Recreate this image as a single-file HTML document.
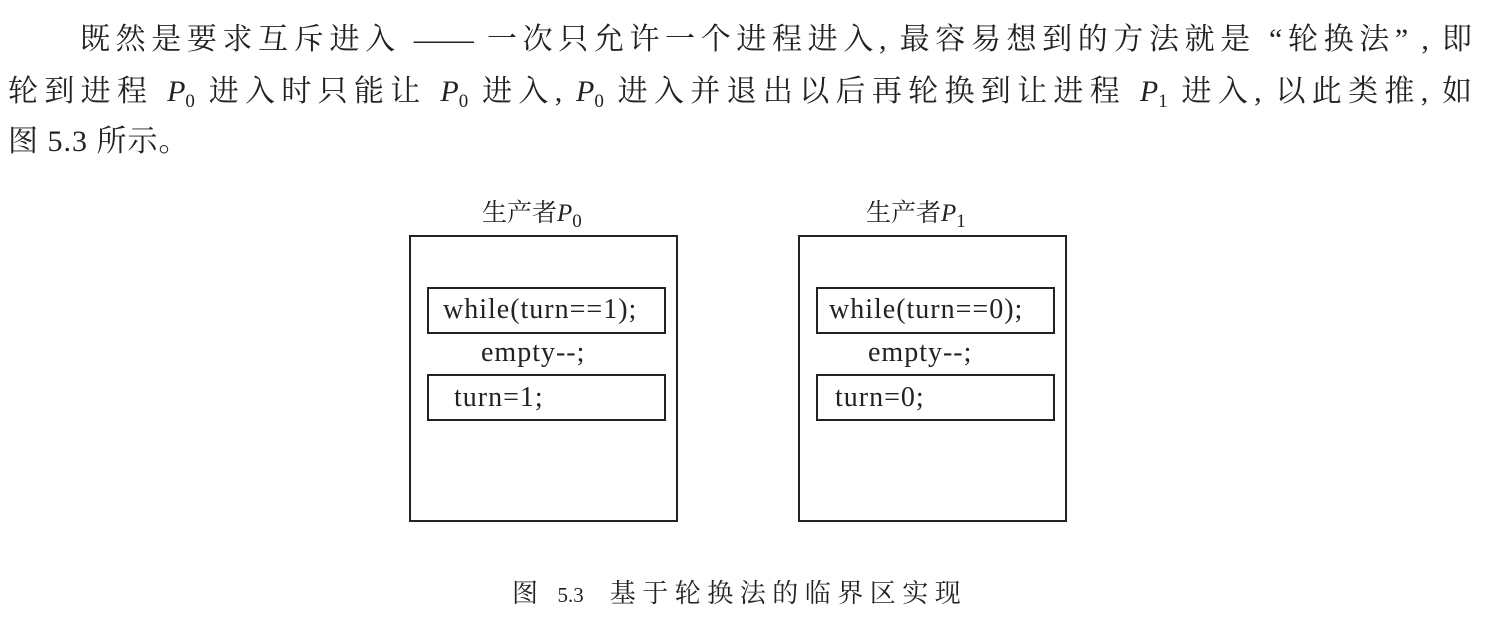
<!DOCTYPE html>
<html><head><meta charset="utf-8"><style>
body{margin:0;width:1495px;height:633px;background:#fff;position:relative;overflow:hidden;font-family:"Liberation Serif","Noto Serif CJK SC",serif;color:#222}
.l{position:absolute;font-size:30px;white-space:nowrap;text-align:justify;text-align-last:justify;height:40px;line-height:40px}
i{font-style:italic}
sub{font-size:19px;vertical-align:-6px;line-height:0}
.box{position:absolute;border:2px solid #222;box-sizing:border-box}
.t{position:absolute;font-size:28px;letter-spacing:1px;white-space:nowrap;line-height:32px}
</style></head><body>
<div class="l" style="left:80px;top:20px;width:1392px">既然是要求互斥进入 —— 一次只允许一个进程进入, 最容易想到的方法就是 “轮换法” , 即</div>
<div class="l" style="left:8px;top:72px;width:1464px">轮到进程 <i>P</i><sub>0</sub> 进入时只能让 <i>P</i><sub>0</sub> 进入, <i>P</i><sub>0</sub> 进入并退出以后再轮换到让进程 <i>P</i><sub>1</sub> 进入, 以此类推, 如</div>
<div class="l" style="left:8px;top:122px;text-align:left;text-align-last:left;letter-spacing:1px">图 5.3 所示。</div>

<div class="t" style="left:482px;top:198px;font-size:25px;letter-spacing:0">生产者<i>P</i><sub>0</sub></div>
<div class="t" style="left:866px;top:198px;font-size:25px;letter-spacing:0">生产者<i>P</i><sub>1</sub></div>

<div class="box" style="left:409px;top:235px;width:269px;height:287px"></div>
<div class="box" style="left:427px;top:287px;width:239px;height:47px"></div>
<div class="t" style="left:443px;top:294px">while(turn==1);</div>
<div class="t" style="left:481px;top:337px">empty--;</div>
<div class="box" style="left:427px;top:374px;width:239px;height:47px"></div>
<div class="t" style="left:454px;top:382px">turn=1;</div>

<div class="box" style="left:798px;top:235px;width:269px;height:287px"></div>
<div class="box" style="left:816px;top:287px;width:239px;height:47px"></div>
<div class="t" style="left:829px;top:294px">while(turn==0);</div>
<div class="t" style="left:868px;top:337px">empty--;</div>
<div class="box" style="left:816px;top:374px;width:239px;height:47px"></div>
<div class="t" style="left:835px;top:382px">turn=0;</div>

<div class="t" style="left:512px;top:578px;font-size:26px;letter-spacing:6.5px">图 <span style="font-size:21px;letter-spacing:0">5.3</span>&nbsp; 基于轮换法的临界区实现</div>
</body></html>
